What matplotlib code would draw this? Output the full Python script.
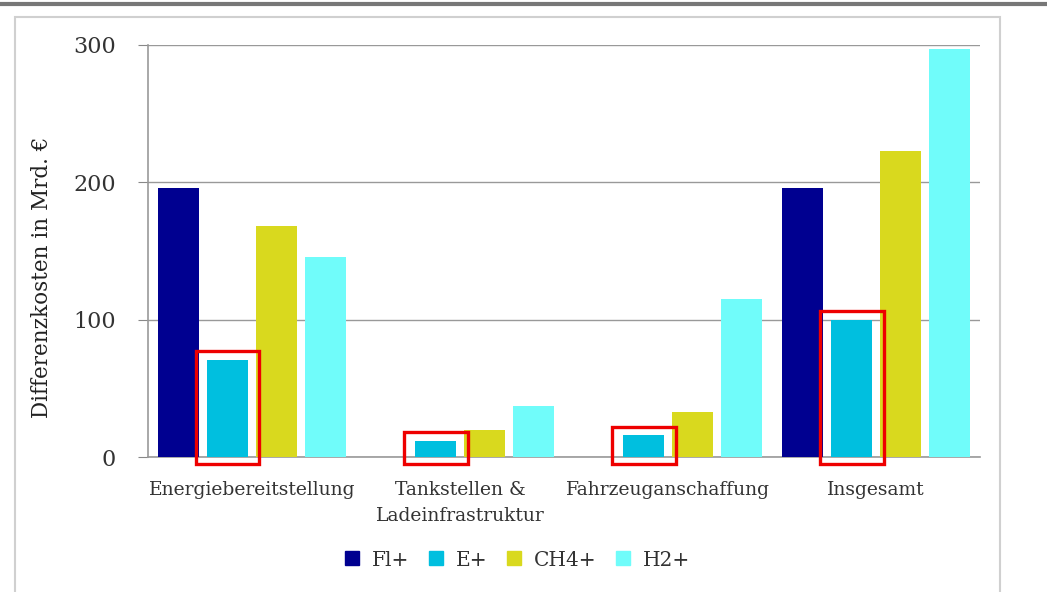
import numpy as np
import matplotlib.pyplot as plt
from matplotlib.patches import Rectangle
from matplotlib.lines import Line2D

# --- data ---
categories = ["Energiebereitstellung", "Tankstellen &\nLadeinfrastruktur",
              "Fahrzeuganschaffung", "Insgesamt"]
series = ["Fl+", "E+", "CH4+", "H2+"]
fl_plus = [196, 0, 0, 196]
e_plus = [71, 12, 16, 100]
ch4_plus = [168, 20, 33, 223]
h2_plus = [146, 37, 115, 297]
yticks = [0, 100, 200, 300]

colors = ["#000090", "#00bfdf", "#d9d91e", "#70fcfa"]

plt.rcParams['font.family'] = ['DejaVu Serif']

fig = plt.figure(figsize=(10.47, 5.92), dpi=100)
ax = fig.add_axes([0.1414, 0.228, 0.7947, 0.696])

x = np.arange(len(categories))
slot = 0.2355
width = 0.197
values = [fl_plus, e_plus, ch4_plus, h2_plus]
bars = []
for i, (vals, c, name) in enumerate(zip(values, colors, series)):
    b = ax.bar(x + (i - 1.5) * slot, vals, width, color=c, label=name, zorder=3)
    bars.append(b)

# red highlight boxes around the E+ bars
for rect in bars[1]:
    bx = rect.get_x()
    bw = rect.get_width()
    h = rect.get_height()
    ax.add_patch(Rectangle((bx - 0.055, -5), bw + 0.11, h + 11,
                           fill=False, edgecolor="#ee0000", linewidth=2.4,
                           zorder=5, clip_on=False))

ax.set_xlim(-0.5, len(categories) - 0.5)
ax.set_ylim(0, 300)
ax.set_yticks(yticks)
ax.set_yticklabels([str(t) for t in yticks], fontsize=16, color="#333333")
ax.set_xticks(x)
ax.set_xticklabels(categories, fontsize=13.5, color="#333333", linespacing=1.6)
ax.tick_params(axis="x", length=0, pad=17)
ax.tick_params(axis="y", length=7, color="#888888", pad=16)
ax.yaxis.grid(True, color="#999999", linewidth=1.0, zorder=0)
for s in ["top", "right"]:
    ax.spines[s].set_visible(False)
for s in ["left", "bottom"]:
    ax.spines[s].set_color("#999999")
    ax.spines[s].set_linewidth(1.2)
ax.set_ylabel("Differenzkosten in Mrd. €", fontsize=15.5, color="#222222")
ax.yaxis.set_label_coords(-0.114, 0.437)

handles = [Line2D([], [], marker="s", linestyle="none", markersize=10,
                  markerfacecolor=c, markeredgecolor=c) for c in colors]
fig.legend(handles, series, loc="center", bbox_to_anchor=(0.488, 0.054), ncol=4,
           frameon=False, fontsize=14.5, handletextpad=0.0, columnspacing=0.3,
           labelcolor="#333333")

# outer frame and top rule
fig.patches.append(Rectangle((0.0143, -0.05), 0.941, 1.021, transform=fig.transFigure,
                             fill=False, edgecolor="#d0d0d0", linewidth=1.5))
fig.lines.append(Line2D([0, 1], [0.994, 0.994], transform=fig.transFigure,
                        color="#777777", linewidth=3))

fig.savefig("out.png", dpi=100, facecolor="white")
